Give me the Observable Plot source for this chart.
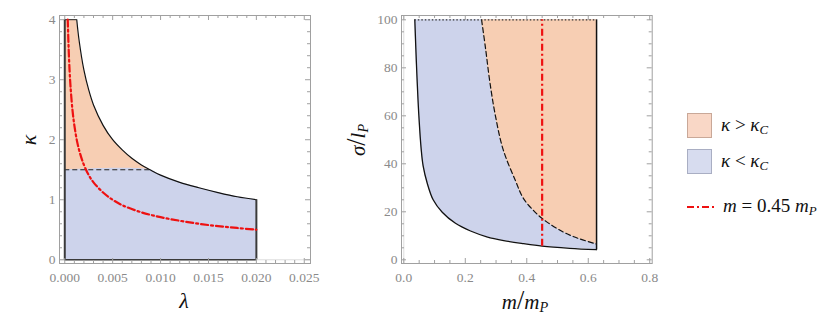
<!DOCTYPE html>
<html><head><meta charset="utf-8">
<script src="https://cdn.jsdelivr.net/npm/d3@7"></script>
<script src="https://cdn.jsdelivr.net/npm/@observablehq/plot@0.6"></script>
<style>
body{margin:0;background:#fff;}
#wrap{position:relative;width:830px;height:335px;overflow:hidden;}
.panel{position:absolute;top:0;}
.panel text{font-family:"Liberation Serif",serif !important;}
.lab{position:absolute;font-family:"Liberation Serif",serif;font-style:italic;color:#111;white-space:nowrap;line-height:1;}
.lab .up{font-style:normal;}
.lab sub{font-size:0.68em;vertical-align:-0.25em;}
.sw{position:absolute;width:25px;height:25px;box-sizing:border-box;}
</style></head><body><div id="wrap"></div>
<script>
// ---------- data ----------
// left panel: upper boundary curve kappa(lambda)
const lambdaUpper = [0.00125,0.0015,0.002,0.0025,0.003,0.004,0.005,0.006,0.007,0.008,0.0089,0.010,0.012,0.014,0.016,0.018,0.020];
const kappaUpper  = [4.0,3.65,3.16,2.83,2.58,2.24,2.0,1.83,1.69,1.58,1.5,1.41,1.29,1.20,1.12,1.05,1.0];
// left panel: red dash-dot curve (m = 0.45 mP)
const lambdaRed = [0.00031,0.0004,0.0005,0.0006,0.0008,0.001,0.0013,0.0016,0.002,0.0025,0.003,0.004,0.005,0.006,0.008,0.010,0.012,0.014,0.016,0.018,0.020];
const kappaRed  = [4.0,3.54,3.16,2.89,2.5,2.24,1.96,1.77,1.58,1.41,1.29,1.12,1.0,0.91,0.79,0.71,0.65,0.60,0.56,0.53,0.5];
const kappaC = 1.5, kappaMax = 4, lambdaMax = 0.02;
// right panel: lower solid curve sigma(m)
const mLower     = [0.0358,0.0413,0.049,0.0566,0.063,0.076,0.0955,0.125,0.168,0.217,0.27,0.325,0.39,0.45,0.54,0.627];
const sigmaLower = [100,81,60,46,39,32,25,19.8,15.2,12.0,9.6,8.0,6.7,5.7,4.8,4.2];
// right panel: dashed curve (kappa = kappaC)
const mDashed     = [0.253,0.266,0.280,0.298,0.323,0.363,0.390,0.434,0.466,0.52,0.57,0.627];
const sigmaDashed = [100,88,74,60,46,33,25.4,19.0,15.7,11.5,8.8,6.6];
const mLine = 0.45, mMax = 0.627, sigmaMax = 100;
// ticks
const xTicksLeft  = [0,0.005,0.010,0.015,0.020,0.025];
const yTicksLeft  = [0,1,2,3,4];
const xTicksRight = [0,0.2,0.4,0.6,0.8];
const yTicksRight = [0,20,40,60,80,100];
// legend
const legendLabels = ["κ > κ<sub>C</sub>","κ < κ<sub>C</sub>","m = 0.45 m<sub>P</sub>"];

// ---------- styling ----------
const ORANGE = "#f7ceb3", BLUE = "#cdd3eb", FRAME = "#a0a0a0", RED = "#ee1111";
const DASHDOT = "7,3,2,3";
const CURVE = "catmull-rom";

const upper = lambdaUpper.map((l,i)=>({l, k:kappaUpper[i]}));
const red = lambdaRed.map((l,i)=>({l, k:kappaRed[i]}));
const lower = mLower.map((m,i)=>({m, s:sigmaLower[i]}));
const dashed = mDashed.map((m,i)=>({m, s:sigmaDashed[i]}));

function frameTicks(xMaj,xMin,yMaj,yMin,H,W){
  const out=[];
  for (const [arr,len] of [[xMaj,5],[xMin,3]]) {
    out.push(Plot.tickX(arr,{x:d=>d, insetTop:H-len, stroke:FRAME}));
    out.push(Plot.tickX(arr,{x:d=>d, insetBottom:H-len, stroke:FRAME}));
  }
  for (const [arr,len] of [[yMaj,5],[yMin,3]]) {
    out.push(Plot.tickY(arr,{y:d=>d, insetRight:W-len, stroke:FRAME}));
    out.push(Plot.tickY(arr,{y:d=>d, insetLeft:W-len, stroke:FRAME}));
  }
  return out;
}
const minor = (a,b,step,maj)=>d3.range(a,b+step/2,step).filter(v=>!maj.some(t=>Math.abs(t-v)<step/10));

const common = {height:335, marginTop:15, marginBottom:72,
  style:{fontSize:"13.5px", fontFamily:"Liberation Serif, serif", color:"#8a8a8a", background:"transparent"}};

// ---------- left panel ----------
const wL = 340, fL = {l:59, r:310};
const HL = 263-15, WL = fL.r-fL.l;
const orangePts = upper.filter(d=>d.k>=kappaC);
const bluePts = [{l:0,k:kappaC}, ...upper.filter(d=>d.k<=kappaC)];
const left = Plot.plot({
  ...common, width:wL, marginLeft:fL.l, marginRight:wL-fL.r,
  x:{domain:[-0.00055,0.02565]}, y:{domain:[-0.062,4.07]},
  marks:[
    Plot.ruleY([0],{stroke:"#dddddd"}),
    Plot.areaX(orangePts,{y:"k", x1:0, x2:"l", fill:ORANGE, curve:CURVE}),
    Plot.areaY(bluePts,{x:"l", y1:0, y2:"k", fill:BLUE, curve:CURVE}),
    Plot.line(upper,{x:"l", y:"k", stroke:"#111", strokeWidth:1.2, curve:CURVE}),
    Plot.ruleY([kappaC],{x1:0, x2:orangePts[orangePts.length-1].l, stroke:"#222", strokeWidth:1.2, strokeDasharray:"5,3"}),
    Plot.ruleX([0],{y1:0, y2:kappaMax, stroke:"#3a3a3a", strokeWidth:2}),
    Plot.ruleX([lambdaMax],{y1:0, y2:kappaUpper[kappaUpper.length-1], stroke:"#3a3a3a", strokeWidth:2}),
    Plot.ruleY([0],{x1:0, x2:lambdaMax, stroke:"#3a3a3a", strokeWidth:1.5}),
    Plot.ruleY([kappaMax],{x1:0, x2:lambdaUpper[0], stroke:"#222", strokeWidth:1}),
    Plot.line(red,{x:"l", y:"k", stroke:RED, strokeWidth:2.2, strokeDasharray:DASHDOT, curve:CURVE}),
    Plot.frame({stroke:FRAME}),
    ...frameTicks(xTicksLeft, minor(0,0.025,0.001,xTicksLeft), yTicksLeft, minor(0,4,0.2,yTicksLeft), HL, WL),
    Plot.axisX({ticks:xTicksLeft, tickSize:0, tickPadding:9, tickFormat:d3.format(".3f"), label:null}),
    Plot.axisY({ticks:yTicksLeft, tickSize:0, tickPadding:4, tickFormat:d=>d, label:null})
  ]
});

// ---------- right panel ----------
const wR = 330, offR = 340, fR = {l:401-offR, r:651.7-offR};
const HR = 263-15, WR = fR.r-fR.l;
const right = Plot.plot({
  ...common, width:wR, marginLeft:fR.l, marginRight:wR-fR.r,
  x:{domain:[-0.0075,0.808]}, y:{domain:[-1.54,101.8]},
  marks:[
    Plot.ruleX([0],{stroke:"#dddddd"}),
    Plot.areaY(lower,{x:"m", y1:"s", y2:sigmaMax, fill:BLUE, curve:CURVE}),
    Plot.areaY(dashed,{x:"m", y1:"s", y2:sigmaMax, fill:ORANGE, curve:CURVE}),
    Plot.line(lower,{x:"m", y:"s", stroke:"#111", strokeWidth:1.3, curve:CURVE}),
    Plot.line(dashed,{x:"m", y:"s", stroke:"#111", strokeWidth:1.2, strokeDasharray:"5,3", curve:CURVE}),
    Plot.ruleX([mMax],{y1:sigmaLower[sigmaLower.length-1], y2:sigmaMax, stroke:"#111", strokeWidth:1.5}),
    Plot.ruleY([sigmaMax],{x1:mLower[0], x2:mMax, stroke:"#333", strokeWidth:1.2, strokeDasharray:"1.5,2"}),
    Plot.ruleX([mLine],{y1:sigmaLower[mLower.indexOf(mLine)], y2:sigmaMax, stroke:RED, strokeWidth:2.2, strokeDasharray:DASHDOT}),
    Plot.frame({stroke:FRAME}),
    ...frameTicks(xTicksRight, minor(0,0.8,0.05,xTicksRight), yTicksRight, minor(0,100,5,yTicksRight), HR, WR),
    Plot.axisX({ticks:xTicksRight, tickSize:0, tickPadding:9, tickFormat:d3.format(".1f"), label:null}),
    Plot.axisY({ticks:yTicksRight, tickSize:0, tickPadding:4, tickFormat:d=>d, label:null})
  ]
});

const wrap = document.getElementById("wrap");
left.classList.add("panel"); left.style.left="0px";
right.classList.add("panel"); right.style.left=offR+"px";
wrap.appendChild(left); wrap.appendChild(right);

function label(html, x, y, size, rot){
  const d=document.createElement("div");
  d.className="lab"; d.innerHTML=html;
  d.style.left=x+"px"; d.style.top=y+"px"; d.style.fontSize=size+"px";
  d.style.transform=`translate(-50%,-50%)${rot?` rotate(${rot}deg)`:""}`;
  wrap.appendChild(d); return d;
}
// axis titles
label("λ",184,301,22);
label("κ",29,140,22,-90);
label("m<span class='up' style='font-size:1.25em'>/</span>m<sub>P</sub>",525,301,21);
label("σ<span class='up' style='font-size:1.25em'>/</span>l<sub>P</sub>",357,140,21,-90);

// legend
function swatch(top,bg,border){
  const s=document.createElement("div"); s.className="sw";
  s.style.left="687px"; s.style.top=top+"px"; s.style.background=bg; s.style.border="1px solid "+border;
  wrap.appendChild(s);
}
swatch(113,"#f9d7c6","#c9a898");
swatch(149,"#d7dcef","#a9aec3");
const ln=document.createElementNS("http://www.w3.org/2000/svg","svg");
ln.setAttribute("width","27"); ln.setAttribute("height","6");
ln.style.position="absolute"; ln.style.left="687px"; ln.style.top="204px";
ln.innerHTML=`<line x1="0" y1="3" x2="27" y2="3" stroke="${RED}" stroke-width="2.2" stroke-dasharray="${DASHDOT}"/>`;
wrap.appendChild(ln);
function legText(html,x,y){
  const d=document.createElement("div"); d.className="lab"; d.innerHTML=html;
  d.style.left=x+"px"; d.style.top=y+"px"; d.style.fontSize="19px"; d.style.transform="translateY(-50%)";
  wrap.appendChild(d);
}
legText(legendLabels[0].replace(" > ","<span class='up'>&nbsp;&gt;&nbsp;</span>"),721,126);
legText(legendLabels[1].replace(" < ","<span class='up'>&nbsp;&lt;&nbsp;</span>"),721,162);
legText(legendLabels[2].replace(" = ","<span class='up'>&nbsp;=&nbsp;</span>").replace("0.45","<span class='up'>0.45</span>"),723,207);
</script>
</body></html>
